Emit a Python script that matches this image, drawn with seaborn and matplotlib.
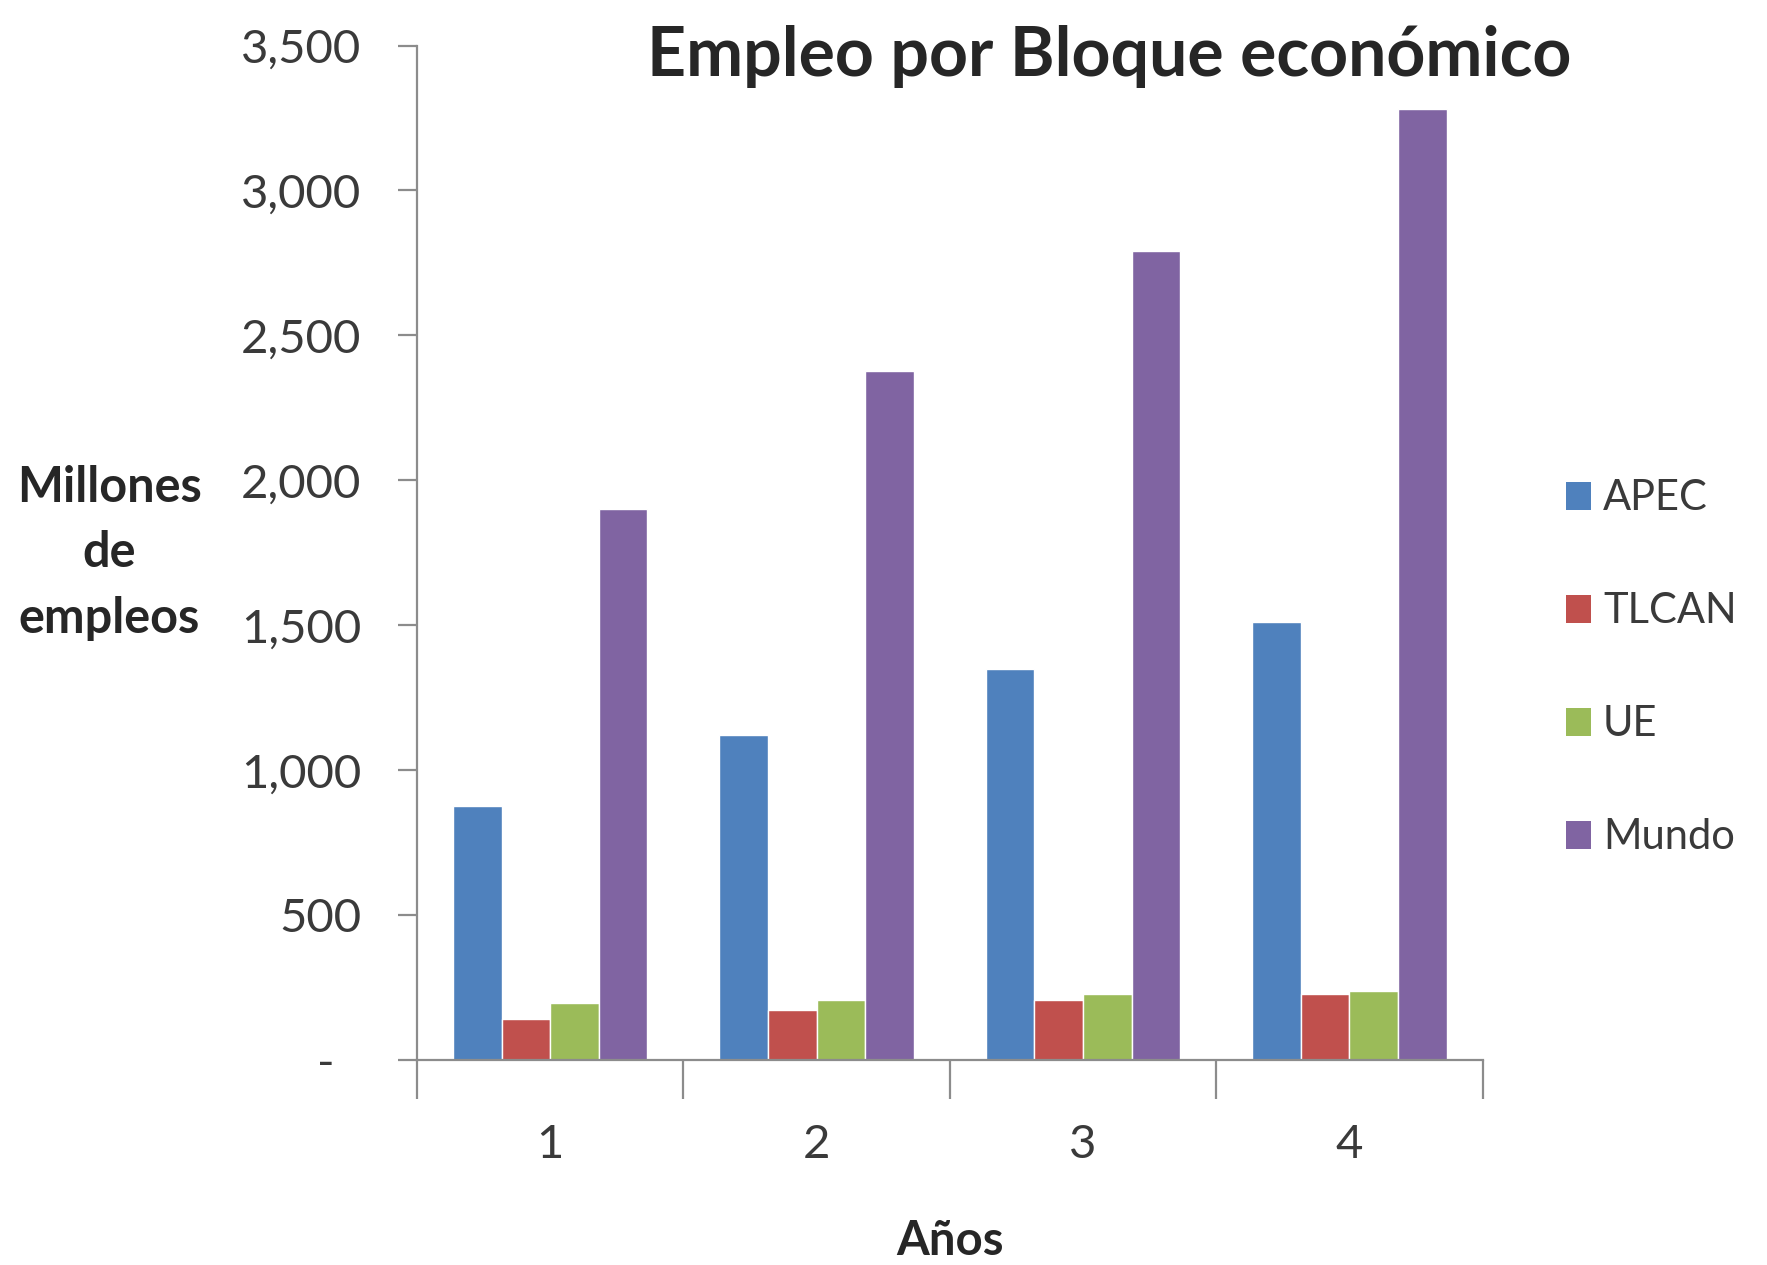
import matplotlib
matplotlib.use("Agg")
import matplotlib.pyplot as plt
import seaborn as sns
import pandas as pd
from matplotlib.ticker import FuncFormatter, FixedLocator
from matplotlib.patches import Patch

years = ["1", "2", "3", "4"]
blocks = ["APEC", "TLCAN", "UE", "Mundo"]
apec = [875, 1120, 1350, 1510]
tlcan = [140, 172, 206, 227]
ue = [198, 206, 227, 238]
mundo = [1900, 2378, 2790, 3280]
y_ticks = [0, 500, 1000, 1500, 2000, 2500, 3000, 3500]

colors = ["#4F81BD", "#C0504D", "#9BBB59", "#8064A2"]

rows = []
for name, vals in zip(blocks, [apec, tlcan, ue, mundo]):
    for yr, v in zip(years, vals):
        rows.append({"Años": yr, "Bloque": name, "Empleos": v})
df = pd.DataFrame(rows)

sns.set_theme(style="white")
plt.rcParams["font.family"] = ["Lato", "DejaVu Sans"]

fig = plt.figure(figsize=(17.67, 12.65), dpi=100)
ax = fig.add_axes([0.236, 0.162, 0.603, 0.802])

sns.barplot(data=df, x="Años", y="Empleos", hue="Bloque", hue_order=blocks,
            palette=colors, width=0.73, saturation=1, ax=ax, legend=False)

ax.set_ylim(0, 3500)
ax.set_xlim(-0.5, 3.5)
ax.yaxis.set_major_locator(FixedLocator(y_ticks))
ax.yaxis.set_major_formatter(FuncFormatter(lambda v, p: "-\u2007" if v == 0 else f"{int(v):,}"))

axis_gray = "#8c8c8c"
for side in ["top", "right"]:
    ax.spines[side].set_visible(False)
for side in ["left", "bottom"]:
    ax.spines[side].set_color(axis_gray)
    ax.spines[side].set_linewidth(1.6)

ax.tick_params(axis="y", which="major", direction="out", length=14, width=1.6,
               color=axis_gray, labelsize=34, labelcolor="#3a3a3a", pad=26, left=True)
ax.set_xticks(range(4))
ax.set_xticklabels(years)
ax.tick_params(axis="x", which="major", length=0, labelsize=34, labelcolor="#3a3a3a", pad=46)
ax.set_xticks([-0.5, 0.5, 1.5, 2.5, 3.5], minor=True)
ax.tick_params(axis="x", which="minor", direction="out", length=28, width=1.6,
               color=axis_gray, bottom=True)

ax.set_xlabel("Años", fontsize=34, fontweight="bold", labelpad=38)
ax.set_ylabel("Millones\nde\nempleos", fontsize=35, fontweight="bold",
              rotation=0, ha="center", va="center", linespacing=1.55)
ax.yaxis.set_label_coords(-0.289, 0.5)

fig.text(0.628, 0.955, "Empleo por Bloque económico", fontsize=49,
         fontweight="bold", ha="center", va="center")

handles = [Patch(facecolor=c, edgecolor="none") for c in colors]
fig.legend(handles, blocks, loc="center left", bbox_to_anchor=(0.886, 0.472),
           frameon=False, fontsize=30, handlelength=0.6, handleheight=0.65,
           handletextpad=0.3, labelspacing=1.8, labelcolor="#3a3a3a",
           borderaxespad=0, borderpad=0)

fig.savefig("out.png", dpi=100)
